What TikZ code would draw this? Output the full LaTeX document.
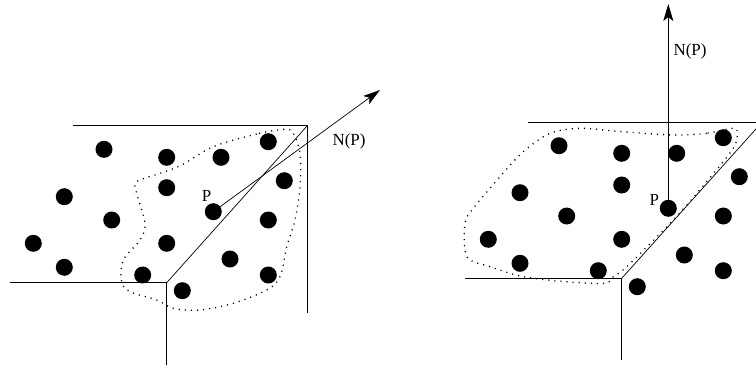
\documentclass[tikz,border=0pt]{standalone}
\usepackage{fontspec}
\setmainfont{Liberation Serif}
\usetikzlibrary{arrows.meta}
\begin{document}
\begin{tikzpicture}[x=1bp,y=-1bp,
  pt/.style={circle,fill=black,inner sep=0pt,minimum size=17bp},
  edge/.style={line width=0.7bp},
  region/.style={line width=1.3bp,dash pattern=on 1.1bp off 5bp},
  lbl/.style={font=\fontsize{17}{17}\selectfont,inner sep=0pt},
  normal/.style={line width=0.7bp,-{Stealth[length=17bp,width=10bp,inset=4bp]}}]
\useasboundingbox (0,0) rectangle (756,376);
% ---------- left figure ----------
\coordinate (la) at (72.7,125.7);
\coordinate (lb) at (307.3,125.7);
\coordinate (lc) at (307.3,313.3);
\coordinate (ld) at (10,282.7);
\coordinate (lo) at (166.7,282.7);
\coordinate (le) at (166.7,365);
\draw[edge] (la) -- (lb) -- (lc);
\draw[edge] (ld) -- (lo) -- (le);
\draw[edge] (lo) -- (lb);
\draw[region] plot[smooth cycle,tension=0.55] coordinates {
 (285,129.3) (256.7,134) (213.3,146.7) (181.7,165) (160,173.3) (136.7,181.7)
 (136.7,193.3) (145,223.3) (140,240) (123.3,260) (121.7,281.7) (130,291.7)
 (156.7,300) (173.3,308.3) (200,310) (233.3,303.3) (266.7,290) (280,276.7)
 (286.7,246.7) (295,220) (300,186.7) (300,153.3) (293.3,133.3)};
\foreach \n/\x/\y in {1/104/149.3,2/166.7/157.3,3/221/157.3,4/268.3/141.7,
  5/64.3/196.7,6/111.7/220,7/166.7/187.7,9/284.3/180.7,10/268.3/220,
  11/33.3/243.3,12/166.7/243.3,13/64.3/267.3,14/142.7/275,15/230/259,
  16/268.3/275,17/182.3/290.7}
  \node[pt] (l\n) at (\x,\y) {};
\node[pt] (lp) at (213.3,211.7) {};
\coordinate (ltip) at (380,90);
\draw[normal] (lp.center) -- (ltip);
\node[lbl] (lP) at (206.7,195.5) {P};
\node[lbl] (lN) at (349,141.7) {N(P)};
% ---------- right figure ----------
\coordinate (ra) at (528.3,122.7);
\coordinate (rb) at (756,122.7);
\coordinate (rd) at (465,278.3);
\coordinate (ro) at (621.7,278.3);
\coordinate (re) at (621.7,360);
\coordinate (rf) at (760,124.5);
\draw[edge] (ra) -- (rb);
\draw[edge] (rd) -- (ro) -- (re);
\draw[edge] (ro) -- (rf);
\draw[region] plot[smooth cycle,tension=0.5] coordinates {
 (733.3,128.3) (706.7,133.3) (673.3,135) (621.7,131.7) (580,128.3) (550,133.3)
 (523.3,151.7) (500,176.7) (473.3,208.3) (465,223.3) (466.7,256.7) (490,266.7)
 (523.3,276.7) (566.7,281.7) (605,283.3) (613.3,276.7) (626.7,266.7)
 (673.3,220) (706.7,181.7) (733.3,148.3) (737.3,133.3)};
\foreach \n/\x/\y in {1/559/145.7,2/621.7/153.3,3/676.7/153.3,4/723.3/137.7,
  5/520/192.7,6/621.7/185,7/566.7/216,9/739.3/176.7,10/723.3/216,
  11/488.3/239.3,12/621.7/239.3,13/520/263.3,14/598.3/270.7,15/684.3/255,
  16/723.3/270.7,17/637.3/286.7}
  \node[pt] (r\n) at (\x,\y) {};
\node[pt] (rp) at (668.3,208.3) {};
\coordinate (rtip) at (668.3,4);
\draw[normal] (rp.center) -- (rtip);
\node[lbl] (rP) at (654.3,200) {P};
\node[lbl] (rN) at (690,51.7) {N(P)};
\end{tikzpicture}
\end{document}
